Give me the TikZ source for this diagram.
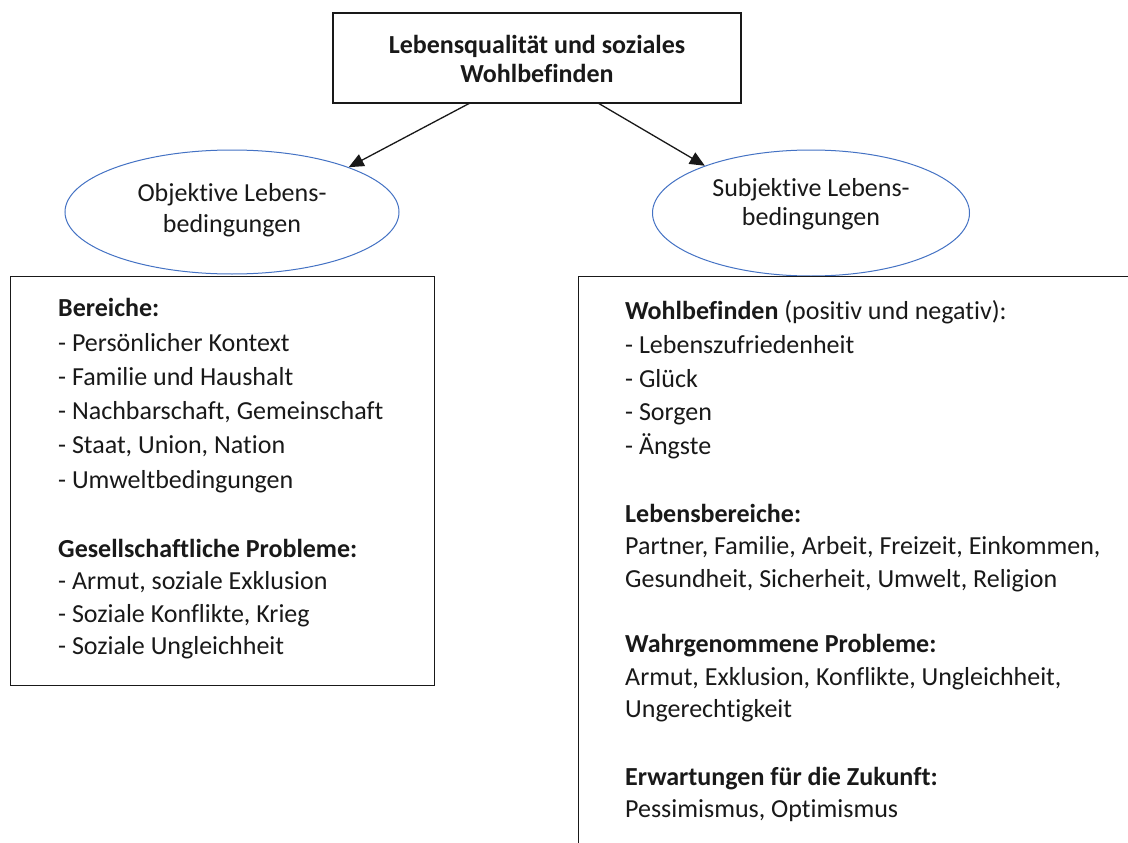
\documentclass[tikz,border=0pt]{standalone}
\usepackage{fontspec}
\setmainfont{Carlito}[Ligatures={NoCommon}]
\usetikzlibrary{shapes.geometric,arrows.meta}
\definecolor{ellblue}{RGB}{68,114,196}
\definecolor{ink}{RGB}{25,25,25}
\tikzset{
  frame/.style={draw=ink,line width=1.4pt,rectangle,inner sep=0pt},
  ell/.style={draw=ellblue,line width=1pt,ellipse,inner sep=0pt},
  arr/.style={draw=ink,line width=1.3pt,-{Triangle[length=15pt,width=13pt]}},
  txt/.style={anchor=base west,inner sep=0pt,text=ink,font=\fontsize{26}{31}\selectfont},
  ctxt/.style={anchor=base,inner sep=0pt,text=ink,font=\fontsize{26}{31}\selectfont},
}
\begin{document}
\begin{tikzpicture}[x=1pt,y=-1pt]
\useasboundingbox (0,0) rectangle (1128,843);
\fill[white] (0,0) rectangle (1128,843);
% top box
\node[frame,minimum width=408pt,minimum height=90pt] (top) at (537,58) {};
\node[ctxt,font=\fontsize{26}{31}\selectfont\bfseries] (t1) at (537,54) {Lebensqualität und soziales};
\node[ctxt,font=\fontsize{26}{31}\selectfont\bfseries] (t2) at (537,82) {Wohlbefinden};
% ellipses
\node[ell,minimum width=334pt,minimum height=124pt] (lell) at (232,212) {};
\node[ctxt] (l1) at (232,201) {Objektive Lebens-};
\node[ctxt] (l2) at (232,232) {bedingungen};
\node[ell,minimum width=317pt,minimum height=126pt] (rell) at (811,213) {};
\node[ctxt] (r1) at (811,196) {Subjektive Lebens-};
\node[ctxt] (r2) at (811,225) {bedingungen};
% arrows
\coordinate (s1) at (470,103);
\coordinate (s2) at (598,103);
\draw[arr] (s1) -- (lell.21);
\draw[arr] (s2) -- (rell.156);
% left box
\node[frame,anchor=north west,minimum width=424pt,minimum height=409pt] (lbox) at (10,276) {};
\node[txt] (a1) at (58,316) {\bfseries Bereiche:};
\node[txt] (a2) at (58,351) {- Persönlicher Kontext};
\node[txt] (a3) at (58,385) {- Familie und Haushalt};
\node[txt] (a4) at (58,419) {- Nachbarschaft, Gemeinschaft};
\node[txt] (a5) at (58,453) {- Staat, Union, Nation};
\node[txt] (a6) at (58,488) {- Umweltbedingungen};
\node[txt] (a7) at (58,557) {\bfseries Gesellschaftliche Probleme:};
\node[txt] (a8) at (58,589) {- Armut, soziale Exklusion};
\node[txt] (a9) at (58,622) {- Soziale Konflikte, Krieg};
\node[txt] (a10) at (58,654) {- Soziale Ungleichheit};
% right box (runs off the page)
\begin{scope}
\clip (0,0) rectangle (1128,843);
\node[frame,anchor=north west,minimum width=600pt,minimum height=620pt] (rbox) at (578,276) {};
\end{scope}
\node[txt] (b1) at (625,319) {\textbf{Wohlbefinden} (positiv und negativ):};
\node[txt] (b2) at (625,353) {- Lebenszufriedenheit};
\node[txt] (b3) at (625,387) {- Glück};
\node[txt] (b4) at (625,420) {- Sorgen};
\node[txt] (b5) at (625,454) {- Ängste};
\node[txt] (b6) at (625,522) {\bfseries Lebensbereiche:};
\node[txt] (b7) at (625,554) {Partner, Familie, Arbeit, Freizeit, Einkommen,};
\node[txt] (b8) at (625,587) {Gesundheit, Sicherheit, Umwelt, Religion};
\node[txt] (b9) at (625,652) {\bfseries Wahrgenommene Probleme:};
\node[txt] (b10) at (625,685) {Armut, Exklusion, Konflikte, Ungleichheit,};
\node[txt] (b11) at (625,717) {Ungerechtigkeit};
\node[txt] (b12) at (625,785) {\bfseries Erwartungen für die Zukunft:};
\node[txt] (b13) at (625,817) {Pessimismus, Optimismus};
\end{tikzpicture}
\end{document}
